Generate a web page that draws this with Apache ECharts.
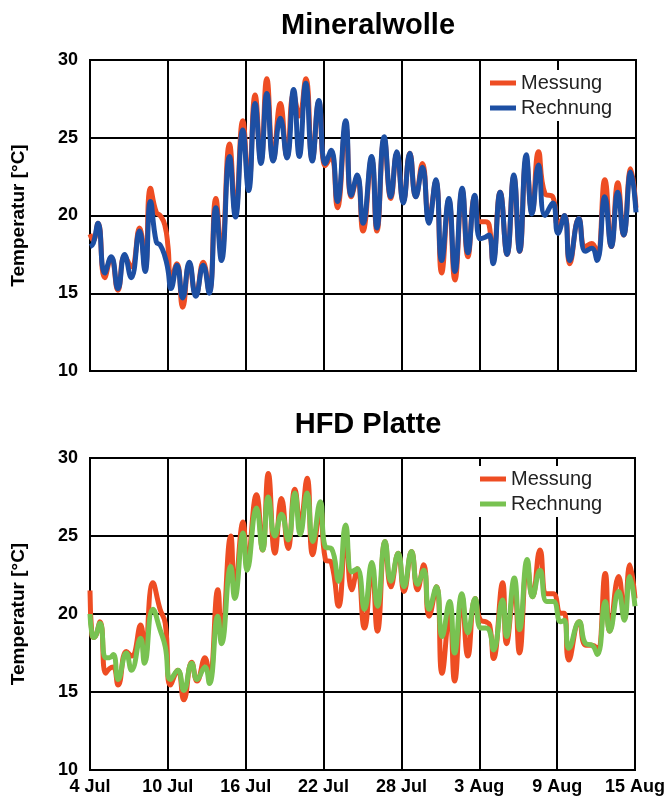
<!DOCTYPE html>
<html><head><meta charset="utf-8">
<script src="https://cdn.jsdelivr.net/npm/echarts@6/dist/echarts.min.js"></script>
<style>html,body{margin:0;padding:0;background:#fff}#c{width:668px;height:801px}</style>
</head><body><div id="c"></div>
<script>
// x values: days since 4 Jul
const tickLabels = ['4 Jul','10 Jul','16 Jul','22 Jul','28 Jul','3 Aug','9 Aug','15 Aug'];

const daysTop = [0,0.25,0.62,1.13,1.63,2.15,2.66,3.17,3.81,4.24,4.65,5.1,5.4,5.75,6.0,6.23,6.69,7.13,7.64,8.14,8.71,9.17,9.68,10.11,10.73,11.19,11.75,12.2,12.7,13.15,13.6,14.1,14.64,15.15,15.66,16.1,16.6,17.1,17.6,18.1,18.56,19.03,19.67,20.1,20.56,21.0,21.66,22.07,22.63,23.14,23.6,24.1,24.6,25.06,25.57,26.07,26.6,27.05,27.6,28.07,28.63,29.07,29.6,30.0,30.4,30.7,31.0,31.55,32.08,32.6,33.05,33.56,34.0,34.5,35.0,35.6,36.0,36.5,36.9,37.6,38.1,38.6,39.0,39.6,40.1,40.6,41.05,41.6,42.0];
const messungTop = [18.8,18.4,19.5,16.0,17.3,15.2,17.4,16.7,19.2,16.6,21.75,20.2,20.0,19.4,18.0,15.9,16.9,14.1,16.9,14.9,17.0,15.1,21.1,17.6,24.6,20.2,26.1,22.0,27.75,23.5,28.8,23.6,27.2,23.8,27.8,26.4,28.8,23.6,27.3,23.2,23.8,20.5,25.7,21.2,22.5,19.0,23.6,19.0,24.9,21.1,24.0,20.9,24.0,21.2,23.35,19.8,22.2,16.3,21.0,15.85,21.6,17.35,21.2,19.6,19.6,19.4,17.1,21.5,17.5,22.5,17.7,23.6,20.2,24.1,21.4,21.2,19.4,20.0,16.9,19.8,18.0,18.2,17.6,22.3,18.0,22.1,18.75,23.0,20.5];
const rechnungTop = [18.0,18.2,19.5,16.3,17.35,15.3,17.5,16.0,19.0,16.4,20.9,18.3,18.1,17.4,16.5,15.3,16.8,14.7,17.0,14.8,16.8,15.0,20.5,17.1,23.8,19.9,25.5,21.6,27.2,23.35,27.85,23.5,26.25,23.7,28.1,23.8,28.5,23.5,27.4,23.35,24.2,20.9,26.1,21.3,22.6,19.5,23.8,19.2,25.07,21.2,24.1,20.8,24.0,21.2,23.1,19.5,22.3,17.1,21.1,16.4,21.75,17.6,21.3,18.5,18.6,18.75,16.9,21.5,17.5,22.6,17.7,23.9,20.1,23.25,20.0,20.8,18.85,20.0,17.1,19.8,17.7,17.9,17.1,21.2,18.0,21.5,18.75,22.8,20.2];

const daysBot = [0,0.15,0.3,0.77,1.2,1.5,1.8,2.17,2.8,3.2,3.9,4.2,4.85,5.4,5.8,6.2,6.77,7.23,7.84,8.25,8.86,9.2,9.85,10.13,10.85,11.15,11.8,12.1,12.83,13.3,13.74,14.25,14.76,15.27,15.79,16.2,16.73,17.16,17.75,18.14,18.6,19.16,19.7,20.18,20.6,21.15,21.72,22.15,22.74,23.19,23.75,24.2,24.78,25.24,25.72,26.13,26.7,27.13,27.71,28.1,28.66,29.12,29.68,30.1,30.5,30.8,31.1,31.8,32.1,32.7,33.1,33.7,34.1,34.68,35.2,35.7,36.27,36.55,36.9,37.7,38.2,38.7,39.1,39.71,40.05,40.74,41.18,41.6,42.0];
const messungBot = [21.5,18.6,18.5,19.5,16.2,16.5,16.6,15.45,17.6,17.3,19.3,17.05,22.0,20.3,19.4,15.45,16.4,14.5,16.9,15.7,17.2,15.8,21.55,18.35,25.0,21.55,25.9,23.25,27.65,24.1,29.0,23.9,27.4,24.2,28.0,25.8,28.7,23.8,26.7,23.5,23.3,20.5,25.0,21.55,22.9,19.1,22.9,18.9,24.65,21.75,23.9,21.45,24.0,21.55,23.15,19.85,21.75,16.2,20.05,15.7,21.1,17.3,21.0,19.6,19.5,19.3,17.15,22.0,18.1,21.75,17.5,23.05,21.1,24.1,21.3,21.3,20.05,20.05,17.05,19.5,18.0,18.0,17.8,22.6,18.9,22.4,19.95,23.15,21.0];
const rechnungBot = [20.0,18.7,18.5,19.4,17.2,17.2,17.4,15.8,17.5,16.4,18.45,16.85,20.3,19.0,17.9,15.8,16.4,15.1,16.85,15.8,16.6,15.55,19.85,18.1,23.05,21.0,25.2,22.8,26.8,24.1,27.5,25.0,26.4,24.75,27.75,25.1,27.75,24.65,27.2,24.3,24.2,22.1,25.7,22.7,22.9,20.3,23.3,20.5,24.65,22.1,23.9,21.75,24.0,21.9,22.8,20.3,21.75,18.55,20.8,17.5,21.3,18.8,21.0,19.1,19.1,18.9,17.7,20.9,18.55,22.3,19.0,23.5,21.1,22.8,20.8,20.8,19.5,19.6,17.8,19.5,18.1,18.0,17.4,20.8,18.9,21.45,19.6,22.4,20.5];

const ORANGE = '#EE4D23', BLUE = '#1D4FA3', GREEN = '#78C251';
const pair = (xs, ys) => xs.map((x, i) => [x, ys[i]]);
const font = '"Liberation Sans", Arial, sans-serif';

function yAxis(gi) {
  return {
    gridIndex: gi, type: 'value', min: 10, max: 30, interval: 5,
    name: 'Temperatur [°C]', nameLocation: 'middle', nameGap: 62, nameRotate: 90,
    nameTextStyle: { fontFamily: font, fontWeight: 'bold', fontSize: 19, color: '#000' },
    axisLine: { show: true, lineStyle: { color: '#000', width: 2 } },
    axisTick: { show: false },
    axisLabel: { fontFamily: font, fontWeight: 'bold', fontSize: 18, color: '#000', margin: 12 },
    splitLine: { show: true, lineStyle: { color: '#000', width: 2 } }
  };
}
function xAxis(gi, labels) {
  return {
    gridIndex: gi, type: 'value', min: 0, max: 42, interval: 6,
    axisLine: { show: true, lineStyle: { color: '#000', width: 2 } },
    axisTick: { show: false },
    axisLabel: { show: labels, fontFamily: font, fontWeight: 'bold', fontSize: 18, color: '#000', margin: 8,
      formatter: v => tickLabels[Math.round(v / 6)] },
    splitLine: { show: true, lineStyle: { color: '#000', width: 2 } }
  };
}
function line(name, gi, data, color) {
  return { name, type: 'line', xAxisIndex: gi, yAxisIndex: gi, data, showSymbol: false,
    smooth: 0.5, lineStyle: { color, width: 5 }, itemStyle: { color } };
}
function legend(left, top, c2) {
  return {
    left, top, orient: 'vertical', itemWidth: 26, itemHeight: 5, itemGap: 5, padding: [3, 4, 3, 2],
    backgroundColor: '#fff', icon: 'rect', selectedMode: false,
    textStyle: { fontFamily: font, fontSize: 20, color: '#222' },
    data: [{ name: 'Messung', itemStyle: { color: ORANGE } }, { name: 'Rechnung', itemStyle: { color: c2 } }]
  };
}

const chart = echarts.init(document.getElementById('c'));
chart.setOption({
  animation: false,
  title: [
    { text: 'Mineralwolle', left: 363, top: 6, textAlign: 'center',
      textStyle: { fontFamily: font, fontWeight: 'bold', fontSize: 29, color: '#000' } },
    { text: 'HFD Platte', left: 363, top: 405, textAlign: 'center',
      textStyle: { fontFamily: font, fontWeight: 'bold', fontSize: 29, color: '#000' } }
  ],
  grid: [
    { left: 90, top: 60, width: 546, height: 311, show: true, borderColor: '#000', borderWidth: 2 },
    { left: 90, top: 458, width: 546, height: 312, show: true, borderColor: '#000', borderWidth: 2 }
  ],
  xAxis: [xAxis(0, false), xAxis(1, true)],
  yAxis: [yAxis(0), yAxis(1)],
  legend: [legend(488, 70, BLUE), legend(478, 466, GREEN)],
  series: [
    line('Messung', 0, pair(daysTop, messungTop), ORANGE),
    line('Rechnung', 0, pair(daysTop, rechnungTop), BLUE),
    line('Messung', 1, pair(daysBot, messungBot), ORANGE),
    line('Rechnung', 1, pair(daysBot, rechnungBot), GREEN)
  ]
});
</script></body></html>
